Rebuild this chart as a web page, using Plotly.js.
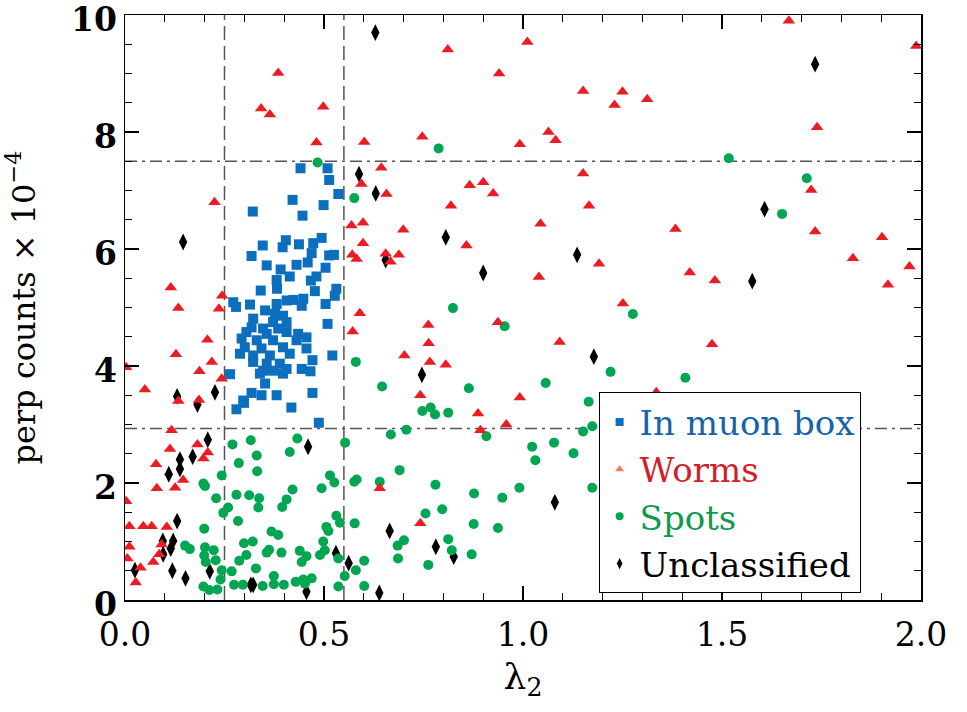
<!DOCTYPE html>
<html><head><meta charset="utf-8">
<script src="https://cdn.plot.ly/plotly-3.0.1.min.js"></script>
<style>body{margin:0;background:#fff}</style>
</head><body><div id="chart" style="width:967px;height:712px"></div>
<script>
// In muon box (blue squares)
const muonX = [0.441,0.509,0.513,0.536,0.421,0.499,0.321,0.446,0.346,0.404,0.396,0.437,0.494,0.473,0.469,0.513,0.525,0.318,0.356,0.431,0.459,0.504,0.391,0.414,0.381,0.481,0.467,0.382,0.341,0.477,0.531,0.527,0.448,0.423,0.406,0.444,0.272,0.279,0.314,0.504,0.381,0.352,0.377,0.397,0.322,0.372,0.406,0.509,0.318,0.347,0.385,0.305,0.356,0.406,0.435,0.456,0.293,0.331,0.372,0.431,0.301,0.343,0.397,0.456,0.289,0.322,0.364,0.414,0.521,0.322,0.356,0.389,0.471,0.347,0.372,0.406,0.444,0.466,0.264,0.339,0.397,0.352,0.318,0.343,0.381,0.471,0.297,0.280,0.299,0.418,0.487];
const muonY = [7.38,7.38,7.18,6.94,6.84,6.75,6.64,6.57,6.06,6.15,6.03,6.08,6.19,6.10,5.93,5.89,5.90,5.88,5.72,5.73,5.77,5.68,5.65,5.53,5.47,5.53,5.46,5.32,5.29,5.28,5.32,5.20,5.15,5.13,5.12,5.03,5.09,5.01,5.05,5.06,5.06,4.95,4.89,4.86,4.81,4.75,4.75,4.72,4.66,4.64,4.64,4.58,4.55,4.58,4.55,4.49,4.47,4.44,4.44,4.44,4.32,4.30,4.32,4.30,4.21,4.18,4.18,4.21,4.18,4.07,4.04,4.04,4.10,3.92,3.92,3.95,3.95,3.91,3.86,3.87,3.87,3.70,3.54,3.50,3.50,3.54,3.41,3.26,3.37,3.29,3.03];

// Worms (red triangles)
const wormX = [0.385,0.342,0.364,0.498,0.481,0.601,0.594,0.225,0.569,0.598,0.598,0.571,0.582,0.115,0.244,0.134,0.236,0.207,0.128,0.218,0.187,0.243,0.003,0.050,0.590,0.572,0.134,0.186,0.117,0.113,0.182,0.208,0.197,0.078,0.146,0.080,0.126,0.003,0.011,0.046,0.067,0.105,0.011,0.092,0.086,0.006,0.071,0.039,0.027,0.811,1.011,0.940,1.151,1.250,1.230,0.747,0.992,1.064,1.082,0.644,0.657,0.866,0.900,0.925,1.151,0.819,1.166,0.699,1.044,0.858,0.655,0.688,0.667,1.040,1.191,1.251,0.762,0.937,0.763,1.092,0.702,0.766,0.806,0.742,0.992,0.887,0.958,0.893,0.640,0.742,1.668,1.988,1.312,1.739,1.724,1.383,1.734,1.902,1.829,1.971,1.419,1.482,1.917,1.475,1.335];
const wormY = [9.01,8.40,8.30,8.43,7.82,7.83,7.11,6.80,6.40,6.45,6.10,5.90,5.83,5.34,5.20,4.99,4.98,4.45,4.20,4.07,3.91,3.78,3.98,3.60,4.90,4.59,3.40,3.42,2.90,2.58,2.66,2.52,2.42,2.32,2.05,1.91,1.92,1.69,1.26,1.26,1.26,1.25,0.91,0.95,0.78,0.71,0.65,0.55,0.30,9.41,9.54,9.00,8.70,8.69,8.46,7.92,7.79,8.00,7.86,7.39,6.94,7.09,7.14,6.95,7.29,6.74,6.74,6.33,6.43,6.06,5.92,5.90,5.78,5.52,5.75,5.07,4.70,4.75,4.39,4.41,4.18,4.07,4.02,3.50,3.46,3.19,3.00,2.90,1.91,1.31,9.90,9.47,8.56,8.08,7.01,6.34,6.30,6.20,5.84,5.70,5.60,5.46,5.39,4.37,3.55];

// Spots (green circles)
const spotX = [0.484,0.576,0.580,0.270,0.316,0.433,0.553,0.414,0.331,0.286,0.332,0.243,0.197,0.201,0.515,0.526,0.576,0.582,0.421,0.494,0.229,0.280,0.312,0.337,0.335,0.406,0.395,0.259,0.247,0.284,0.199,0.531,0.540,0.577,0.506,0.511,0.368,0.385,0.299,0.321,0.498,0.151,0.163,0.201,0.223,0.362,0.356,0.393,0.305,0.439,0.456,0.502,0.490,0.199,0.228,0.287,0.444,0.601,0.536,0.203,0.329,0.243,0.268,0.580,0.552,0.240,0.374,0.429,0.448,0.469,0.452,0.197,0.212,0.232,0.274,0.296,0.346,0.374,0.399,0.536,0.601,0.788,1.276,0.824,0.954,1.220,0.646,0.864,1.057,1.165,0.747,0.768,0.779,0.812,0.908,1.174,1.151,0.668,0.707,1.023,1.078,1.127,1.031,0.690,0.640,0.780,0.877,0.948,0.991,1.174,0.797,0.755,0.876,0.937,0.701,0.685,0.812,0.821,0.871,0.686,0.762,1.517,1.713,1.651,1.408];
const spotY = [7.48,6.87,4.07,2.66,2.73,2.76,2.69,2.53,2.47,2.34,2.20,2.13,1.99,1.95,2.13,2.01,2.02,2.06,1.89,1.91,1.74,1.80,1.79,1.74,1.58,1.72,1.59,1.58,1.49,1.35,1.22,1.44,1.32,1.31,1.25,1.18,1.17,1.11,0.97,1.00,1.00,0.93,0.87,0.90,0.85,0.86,0.81,0.81,0.77,0.84,0.75,0.85,0.77,0.76,0.68,0.67,0.65,0.67,0.71,0.65,0.54,0.51,0.49,0.51,0.41,0.35,0.41,0.31,0.35,0.37,0.28,0.23,0.17,0.18,0.26,0.26,0.24,0.27,0.26,0.23,0.24,7.72,4.89,4.99,4.68,3.90,3.65,3.62,3.71,3.39,3.23,3.29,3.17,3.20,2.80,2.97,2.88,2.83,2.91,2.62,2.69,2.51,2.39,2.22,2.02,1.97,1.82,1.75,1.92,1.92,1.55,1.48,1.30,1.23,1.02,0.93,1.04,0.85,0.78,0.71,0.60,7.55,7.21,6.60,3.80];

// Unclassified (black diamonds)
const uncX = [0.588,0.146,0.226,0.131,0.182,0.208,0.138,0.170,0.138,0.110,0.131,0.095,0.121,0.115,0.096,0.025,0.119,0.152,0.213,0.460,0.316,0.322,0.456,0.530,0.562,0.629,0.630,0.806,1.136,0.655,0.900,1.178,0.746,1.080,0.665,0.781,0.826,0.639,1.734,1.607,1.576];
const uncY = [7.28,6.12,3.55,3.48,3.34,2.74,2.40,2.45,2.24,2.15,1.35,1.01,1.01,0.88,0.78,0.51,0.50,0.37,0.49,2.62,0.26,0.26,0.14,0.80,0.63,9.70,6.95,6.20,5.90,5.81,5.59,4.16,3.85,1.67,1.18,0.91,0.74,0.12,9.16,6.68,5.45];

// Cut lines
const cutX = [0.25, 0.55];
const cutY = [2.93, 7.5];

// Tick labels
const xTickVals = [0, 0.5, 1, 1.5, 2];
const xTickText = ['0.0','0.5','1.0','1.5','2.0'];
const yTickVals = [0, 2, 4, 6, 8, 10];
const yTickText = ['0','2','4','6','8','10'];

const legendNames = ['In muon box','Worms','Spots','Unclassified'];
const legendTextColors = ['#1663a8','#d11f2a','#0f9a4c','#000000'];

const serif = '"DejaVu Serif", serif';
const C = {blue:'#0b6fbd', red:'#ec1c24', green:'#00a651', black:'#000000', salmon:'#f27e60'};

const traces = [
  {x:uncX, y:uncY, type:'scatter', mode:'markers', showlegend:false,
   marker:{symbol:'diamond-tall', size:12, color:C.black}},
  {x:spotX, y:spotY, type:'scatter', mode:'markers', showlegend:false,
   marker:{symbol:'circle', size:10, color:C.green}},
  {x:wormX, y:wormY, type:'scatter', mode:'markers', showlegend:false,
   marker:{symbol:'triangle-up', size:11, color:C.red}},
  {x:muonX, y:muonY, type:'scatter', mode:'markers', showlegend:false,
   marker:{symbol:'square', size:10, color:C.blue}},
];
const legendSymbols = ['square','triangle-up','circle','diamond-tall'];
const legendMarkerColors = [C.blue, C.salmon, C.green, C.black];
for (let i = 0; i < 4; i++) {
  traces.push({x:[null], y:[null], type:'scatter', mode:'markers', legendrank:i+1,
    name:'<span style="color:'+legendTextColors[i]+'">'+legendNames[i]+'</span>',
    marker:{symbol:legendSymbols[i], size:8, color:legendMarkerColors[i]}});
}

const shapes = [];
cutX.forEach(v => shapes.push({type:'line', xref:'x', yref:'paper', x0:v, x1:v, y0:0, y1:1, layer:'below',
  line:{color:'#555', width:1.5, dash:'14px,6px'}}));
cutY.forEach(v => shapes.push({type:'line', xref:'paper', yref:'y', x0:0, x1:1, y0:v, y1:v, layer:'below',
  line:{color:'#555', width:1.5, dash:'12px,5px,3px,5px'}}));

const layout = {
  width:967, height:712,
  margin:{l:125, r:46, t:15, b:112},
  paper_bgcolor:'#fff', plot_bgcolor:'#fff',
  showlegend:true,
  shapes:shapes,
  xaxis:{range:[0,2], tickmode:'array', tickvals:xTickVals, ticktext:xTickText,
    showline:true, linecolor:'#000', linewidth:1.5, mirror:'allticks',
    ticks:'inside', ticklen:14, tickwidth:1.3, tickcolor:'#000',
    minor:{dtick:0.1, ticks:'inside', ticklen:7, tickwidth:1, tickcolor:'#000'},
    showgrid:false, zeroline:false, ticklabeloverflow:'allow', ticklabelstandoff:5,
    tickfont:{family:serif, size:33, color:'#000'},
    title:{text:'λ<sub>2</sub>', font:{family:serif, size:36, color:'#000'}, standoff:10}},
  yaxis:{range:[0,10.0001], tickmode:'array', tickvals:yTickVals, ticktext:yTickText,
    showline:true, linecolor:'#000', linewidth:1.5, mirror:'allticks',
    ticks:'inside', ticklen:14, tickwidth:1.3, tickcolor:'#000',
    minor:{tickmode:'linear', tick0:0, dtick:0.5, ticks:'inside', ticklen:7, tickwidth:1, tickcolor:'#000'},
    showgrid:false, zeroline:false, ticklabeloverflow:'allow', ticklabelshift:4,
    tickfont:{family:serif, size:33, color:'#000', weight:'bold'},
    title:{text:'perp counts × 10<sup>−4</sup>', font:{family:serif, size:32, color:'#000'}, standoff:26}},
  legend:{x:0.595, y:0.355, xanchor:'left', yanchor:'top',
    bgcolor:'#fff', bordercolor:'#000', borderwidth:1,
    font:{family:serif, size:34, color:'#000'}, traceorder:'normal',
    itemwidth:30}
};
Plotly.newPlot('chart', traces, layout, {displayModeBar:false, staticPlot:true});
</script></body></html>
